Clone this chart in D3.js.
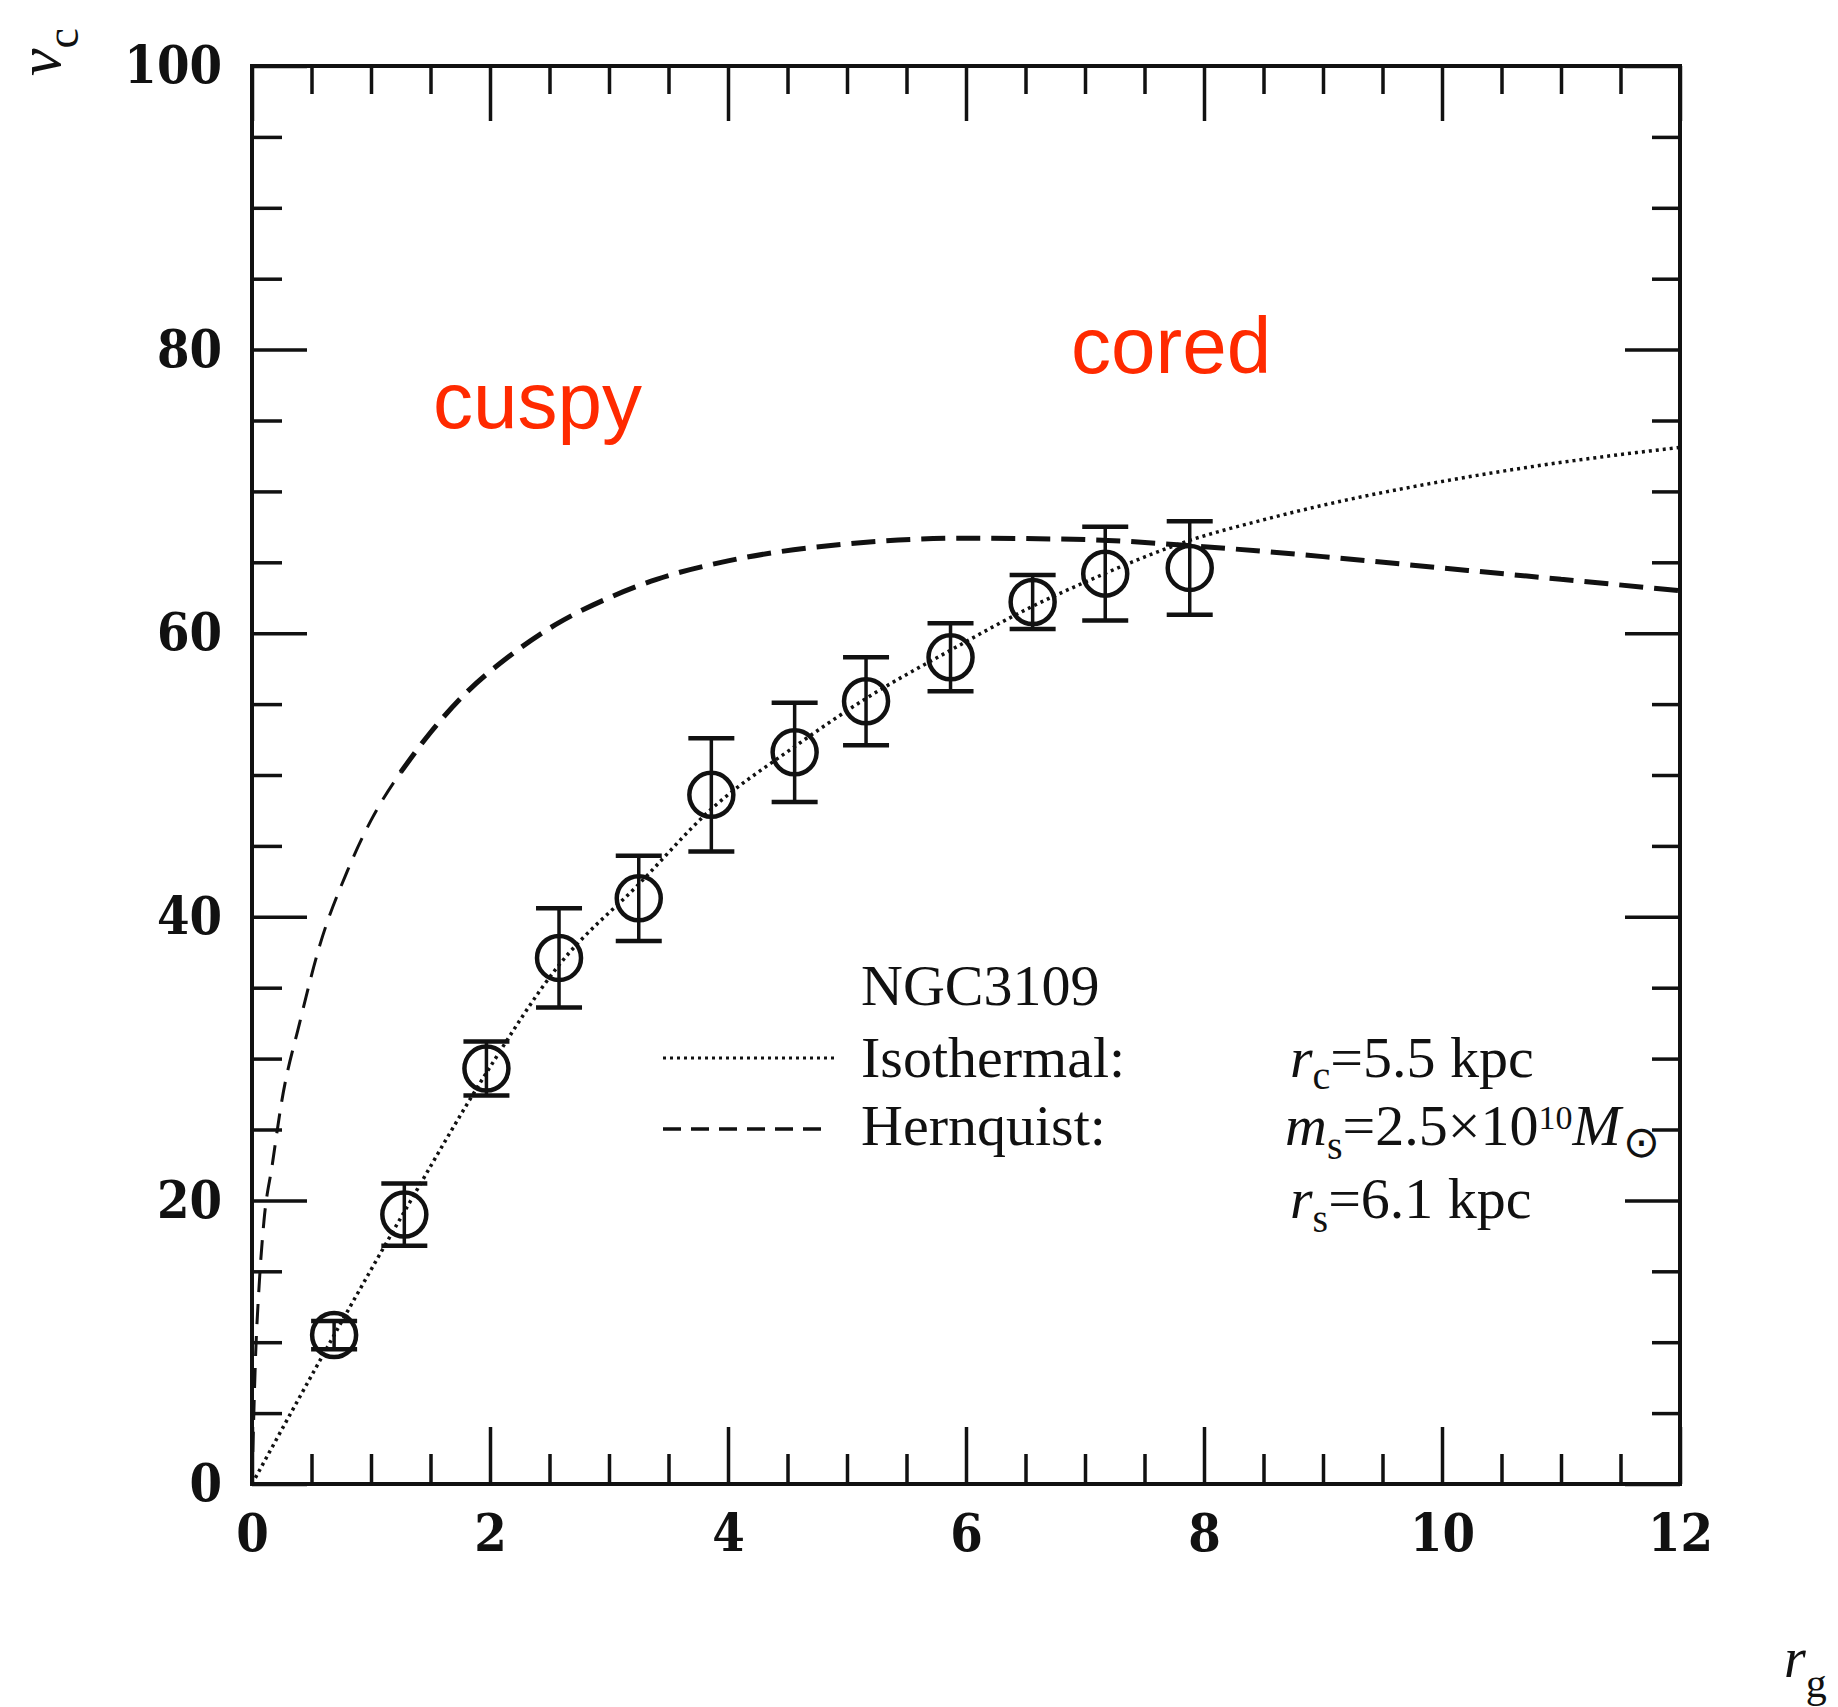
<!DOCTYPE html>
<html>
<head>
<meta charset="utf-8">
<script src="https://cdn.jsdelivr.net/npm/d3@7"></script>
<style>
  body { margin: 0; background: #fff; }
  svg { display: block; }
  .tick text { font-family: "DejaVu Serif Condensed", "DejaVu Serif", serif; font-weight: bold; font-size: 52px; fill: #111; }
  .tick line { stroke: #111; stroke-width: 3.5; }
</style>
</head>
<body>
<svg id="chart" width="1838" height="1707"></svg>
<script>
// measured rotation curve of NGC3109
const radius = [0.69, 1.28, 1.97, 2.58, 3.25, 3.86, 4.56, 5.16, 5.87, 6.56, 7.17, 7.88];
const velocity = [10.5, 19.0, 29.3, 37.1, 41.3, 48.6, 51.6, 55.2, 58.3, 62.2, 64.2, 64.6];
const velErr = [1.0, 2.2, 1.9, 3.5, 3.0, 4.0, 3.5, 3.1, 2.4, 1.9, 3.3, 3.3];

// model curves
const isoR = [0, 0.69, 1.28, 1.97, 2.58, 3.25, 3.86, 4.56, 5.16, 5.87, 6.56, 7.0, 7.9, 8.5, 9.2, 10.0, 10.8, 11.5, 12.0];
const isoV = [0, 10.5, 19.2, 29.0, 36.6, 42.3, 47.6, 52.0, 55.4, 58.8, 61.9, 63.6, 66.6, 68.0, 69.4, 70.7, 71.8, 72.6, 73.1];
const hernR = [0, 0.03, 0.06, 0.10, 0.17, 0.25, 0.40, 0.57, 0.80, 1.00, 1.25, 1.50, 1.80, 2.15, 2.55, 3.00, 3.40, 4.0, 5.0, 6.0, 7.0, 8.0, 9.0, 10.0, 11.0, 12.0];
const hernV = [0, 9.0, 14.0, 18.5, 22.5, 27.0, 32.5, 38.0, 43.2, 46.8, 50.2, 53.0, 55.8, 58.3, 60.6, 62.5, 63.8, 65.1, 66.3, 66.7, 66.6, 66.1, 65.4, 64.6, 63.8, 63.0];

const xMajor = [0, 2, 4, 6, 8, 10, 12];
const yMajor = [0, 20, 40, 60, 80, 100];
const xMinor = d3.range(0.5, 12, 0.5).filter(d => d % 2 !== 0);
const yMinor = d3.range(5, 100, 5).filter(d => d % 20 !== 0);

const svg = d3.select('#chart');
const margin = { top: 66, right: 158, bottom: 223, left: 252 };
const width = 1838, height = 1707;

const x = d3.scaleLinear().domain([0, 12]).range([margin.left, width - margin.right]);
const y = d3.scaleLinear().domain([0, 100]).range([height - margin.bottom, margin.top]);

const addAxis = (axis, transform) => {
  const g = svg.append('g').attr('transform', transform).call(axis);
  g.select('.domain').remove();
  return g;
};

// major ticks with labels, minor ticks without, all pointing inward
addAxis(d3.axisBottom(x).tickValues(xMajor).tickSizeInner(-57).tickSizeOuter(0).tickPadding(30).tickFormat(d3.format('d')),
  `translate(0,${y(0)})`);
addAxis(d3.axisBottom(x).tickValues(xMinor).tickSizeInner(-30).tickSizeOuter(0).tickFormat(''), `translate(0,${y(0)})`);
addAxis(d3.axisTop(x).tickValues(xMajor).tickSizeInner(-55).tickSizeOuter(0).tickFormat(''), `translate(0,${y(100)})`);
addAxis(d3.axisTop(x).tickValues(xMinor).tickSizeInner(-28).tickSizeOuter(0).tickFormat(''), `translate(0,${y(100)})`);
addAxis(d3.axisLeft(y).tickValues(yMajor).tickSizeInner(-55).tickSizeOuter(0).tickPadding(30).tickFormat(d3.format('d')),
  `translate(${x(0)},0)`);
addAxis(d3.axisLeft(y).tickValues(yMinor).tickSizeInner(-30).tickSizeOuter(0).tickFormat(''), `translate(${x(0)},0)`);
addAxis(d3.axisRight(y).tickValues(yMajor).tickSizeInner(-55).tickSizeOuter(0).tickFormat(''), `translate(${x(12)},0)`);
addAxis(d3.axisRight(y).tickValues(yMinor).tickSizeInner(-28).tickSizeOuter(0).tickFormat(''), `translate(${x(12)},0)`);

// frame
svg.append('rect')
  .attr('x', x(0)).attr('y', y(100))
  .attr('width', x(12) - x(0)).attr('height', y(0) - y(100))
  .attr('fill', 'none').attr('stroke', '#111').attr('stroke-width', 4);

const line = d3.line().x(d => x(d[0])).y(d => y(d[1])).curve(d3.curveMonotoneX);
const hern = d3.zip(hernR, hernV);

// Hernquist (dashed) - thin near the centre, heavier further out
svg.append('path')
  .datum(hern.filter(d => d[0] <= 1.25))
  .attr('d', line)
  .attr('fill', 'none').attr('stroke', '#111').attr('stroke-width', 3)
  .attr('stroke-dasharray', '20,12');
svg.append('path')
  .datum(hern.filter(d => d[0] >= 1.25))
  .attr('d', line)
  .attr('fill', 'none').attr('stroke', '#111').attr('stroke-width', 5)
  .attr('stroke-dasharray', '24,11');

// Isothermal (dotted)
svg.append('path')
  .datum(d3.zip(isoR, isoV))
  .attr('d', line)
  .attr('fill', 'none').attr('stroke', '#111').attr('stroke-width', 3.5)
  .attr('stroke-dasharray', '3,4');

// data points with error bars
const pts = d3.zip(radius, velocity, velErr);
const cap = 23;
const pg = svg.append('g').attr('stroke', '#111').attr('fill', 'none');
pg.selectAll('line.bar').data(pts).join('line')
  .attr('class', 'bar')
  .attr('x1', d => x(d[0])).attr('x2', d => x(d[0]))
  .attr('y1', d => y(d[1] - d[2])).attr('y2', d => y(d[1] + d[2]))
  .attr('stroke-width', 3.5);
pg.selectAll('line.capTop').data(pts).join('line')
  .attr('class', 'capTop')
  .attr('x1', d => x(d[0]) - cap).attr('x2', d => x(d[0]) + cap)
  .attr('y1', d => y(d[1] + d[2])).attr('y2', d => y(d[1] + d[2]))
  .attr('stroke-width', 4.5);
pg.selectAll('line.capBot').data(pts).join('line')
  .attr('class', 'capBot')
  .attr('x1', d => x(d[0]) - cap).attr('x2', d => x(d[0]) + cap)
  .attr('y1', d => y(d[1] - d[2])).attr('y2', d => y(d[1] - d[2]))
  .attr('stroke-width', 4.5);
pg.selectAll('circle').data(pts).join('circle')
  .attr('cx', d => x(d[0])).attr('cy', d => y(d[1]))
  .attr('r', 22).attr('stroke-width', 4.5);

// legend
const serif = '"Liberation Serif", "Times New Roman", serif';
const leg = svg.append('g').attr('font-family', serif).attr('font-size', 58).attr('fill', '#111');
leg.append('text').attr('x', 861).attr('y', 1005).text('NGC3109');
leg.append('text').attr('x', 861).attr('y', 1077).text('Isothermal:');
leg.append('text').attr('x', 861).attr('y', 1145).text('Hernquist:');
svg.append('line').attr('x1', 663).attr('x2', 838).attr('y1', 1058).attr('y2', 1058)
  .attr('stroke', '#111').attr('stroke-width', 3).attr('stroke-dasharray', '3,4');
svg.append('line').attr('x1', 663).attr('x2', 822).attr('y1', 1129).attr('y2', 1129)
  .attr('stroke', '#111').attr('stroke-width', 3.5).attr('stroke-dasharray', '18,10');

const p1 = leg.append('text').attr('x', 1290).attr('y', 1077);
p1.append('tspan').attr('font-style', 'italic').text('r');
p1.append('tspan').attr('font-size', 40).attr('dy', 12).text('c');
p1.append('tspan').attr('dy', -12).text('=5.5 kpc');

const p2 = leg.append('text').attr('x', 1285).attr('y', 1145);
p2.append('tspan').attr('font-style', 'italic').text('m');
p2.append('tspan').attr('font-size', 40).attr('dy', 14).text('s');
p2.append('tspan').attr('dy', -14).text('=2.5×10');
p2.append('tspan').attr('font-size', 34).attr('dy', -16).text('10');
p2.append('tspan').attr('font-style', 'italic').attr('dy', 16).text('M');
p2.append('tspan').attr('font-size', 44).attr('dy', 12).attr('dx', 2).text('⊙');

const p3 = leg.append('text').attr('x', 1290).attr('y', 1218);
p3.append('tspan').attr('font-style', 'italic').text('r');
p3.append('tspan').attr('font-size', 40).attr('dy', 14).text('s');
p3.append('tspan').attr('dy', -14).text('=6.1 kpc');

// axis titles
const vt = svg.append('text').attr('transform', 'translate(60,76) rotate(-90)')
  .attr('font-family', serif).attr('font-size', 62).attr('fill', '#111');
vt.append('tspan').attr('font-style', 'italic').text('v');
vt.append('tspan').attr('font-size', 46).attr('dy', 18).text('c');

const rt = svg.append('text').attr('x', 1784).attr('y', 1677)
  .attr('font-family', serif).attr('font-size', 56).attr('fill', '#111');
rt.append('tspan').attr('font-style', 'italic').text('r');
rt.append('tspan').attr('font-size', 42).attr('dy', 20).text('g');

// annotations
svg.append('text').attr('x', 433).attr('y', 428)
  .attr('font-family', '"Liberation Sans", Arial, sans-serif').attr('font-size', 80)
  .attr('fill', '#ff2a00').text('cuspy');
svg.append('text').attr('x', 1071).attr('y', 373)
  .attr('font-family', '"Liberation Sans", Arial, sans-serif').attr('font-size', 80)
  .attr('fill', '#ff2a00').text('cored');
</script>
</body>
</html>
